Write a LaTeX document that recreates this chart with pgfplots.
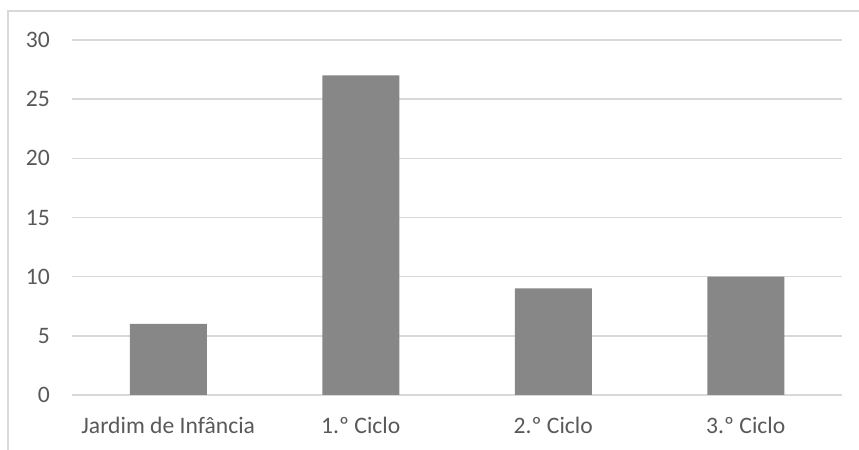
\documentclass[border=0pt]{standalone}
\usepackage{pgfplots}
\pgfplotsset{compat=1.18}
\usepackage{fontspec}
\setmainfont{Carlito}
\definecolor{txt}{HTML}{595959}
\definecolor{gridc}{HTML}{D9D9D9}
\definecolor{barc}{HTML}{878787}
\begin{document}
\begin{tikzpicture}
\path[use as bounding box] (0,0) rectangle (859bp,450bp);
\draw[gridc, line width=1.2bp] (8bp,-20bp) -- (8bp,439bp) -- (880bp,439bp);
\begin{axis}[
  at={(72bp,55bp)}, anchor=south west,
  scale only axis, width=770bp, height=355bp,
  xmin=-0.5, xmax=3.5, ymin=0, ymax=30,
  ytick={0,5,...,30},
  xtick={0,1,2,3},
  xticklabels={Jardim de Infância,1.º Ciclo,2.º Ciclo,3.º Ciclo},
  axis line style={draw=none},
  major tick length=0pt,
  ymajorgrids, grid style={gridc, line width=1.5bp},
  tick label style={font=\fontsize{23.6bp}{28bp}\selectfont, text=txt},
  yticklabel style={anchor=east, inner sep=0pt, xshift=-22bp},
  xticklabel style={anchor=base, inner sep=0pt, yshift=-38bp},
  /pgf/number format/assume math mode=true,
  ybar, bar width=77bp,
]
\addplot[fill=barc, draw=none] coordinates {(0,6) (1,27) (2,9) (3,10)};
\end{axis}
\end{tikzpicture}
\end{document}
